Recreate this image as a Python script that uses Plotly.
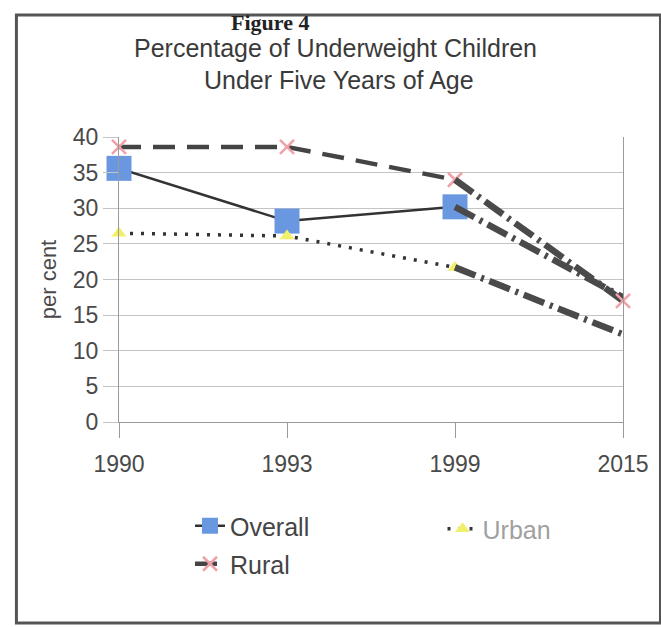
import plotly.graph_objects as go

years = ["1990", "1993", "1999", "2015"]
observed_years = years[:3]
projection_years = years[2:]

overall = [35.6, 28.2, 30.2]
urban = [26.5, 26.1, 21.7]
rural = [38.6, 38.6, 34.0]

overall_proj = [30.2, 17.5]
urban_proj = [21.7, 12.3]
rural_proj = [34.0, 17.0]

W, H = 661, 627
L, R, T, B = 119, 31, 137, 205
PW, PH = W - L - R, H - T - B


def px(x):
    return (x - L) / PW


def py(y):
    return (H - B - y) / PH


PROJ_COLOR = "#4a4a4a"
PROJ_DASH = "22px,6px,3px,6px"

fig = go.Figure()

fig.add_trace(go.Scatter(
    x=observed_years, y=overall, name="Overall", mode="lines+markers",
    line=dict(color="#333333", width=2.5),
    marker=dict(symbol="square", size=25, color="#6a98e0"),
    cliponaxis=False, legend="legend",
))
fig.add_trace(go.Scatter(
    x=observed_years, y=urban, name="Urban", mode="lines+markers",
    line=dict(color="#333333", width=3.5, dash="3px,8px"),
    marker=dict(symbol="triangle-up", size=13, color="#f2f06a"),
    cliponaxis=False, legend="legend2",
))
fig.add_trace(go.Scatter(
    x=observed_years, y=rural, name="Rural", mode="lines+markers",
    line=dict(color="#444444", width=4.5, dash="22px,12px"),
    marker=dict(symbol="x-thin", size=14, line=dict(color="#f0a0a8", width=2.5)),
    cliponaxis=False, legend="legend3",
))

for vals in (overall_proj, urban_proj, rural_proj):
    fig.add_trace(go.Scatter(
        x=projection_years, y=vals, mode="lines", showlegend=False,
        line=dict(color=PROJ_COLOR, width=6.5, dash=PROJ_DASH),
        cliponaxis=False, hoverinfo="skip",
    ))

fig.add_trace(go.Scatter(
    x=projection_years[1:], y=rural_proj[1:], mode="markers", showlegend=False,
    marker=dict(symbol="x-thin", size=14, line=dict(color="#f0a0a8", width=2.5)),
    cliponaxis=False, hoverinfo="skip",
))

SANS = "Liberation Sans, Arial"
tick_font = dict(family=SANS, size=23, color="#4a4a4a")

fig.update_layout(
    width=W, height=H,
    margin=dict(l=L, r=R, t=T, b=B, pad=0),
    paper_bgcolor="white", plot_bgcolor="white",
    font=tick_font,
    xaxis=dict(
        type="category", range=[0, 3],
        showgrid=False, zeroline=False,
        showline=True, linecolor="#9a9a9a", linewidth=1,
        ticks="outside", ticklen=15, tickcolor="#9a9a9a",
        tickfont=tick_font, ticklabelstandoff=6,
    ),
    yaxis=dict(
        range=[0, 40], dtick=5, tick0=0,
        showgrid=True, gridcolor="#c4c4c4", gridwidth=1,
        zeroline=False,
        showline=True, linecolor="#9a9a9a", linewidth=1, mirror=True,
        ticks="outside", ticklen=15, tickcolor="#c4c4c4",
        tickfont=tick_font, ticklabelstandoff=0,
        title=dict(text="per cent", font=dict(family=SANS, size=22, color="#4a4a4a"), standoff=10),
    ),
    legend=dict(
        x=px(191), y=py(503), xanchor="left", yanchor="top",
        font=dict(family=SANS, size=25, color="#444444"),
        bgcolor="rgba(0,0,0,0)",
    ),
    legend2=dict(
        x=px(447), y=py(506), xanchor="left", yanchor="top",
        font=dict(family=SANS, size=25, color="#a0a0a0"),
        bgcolor="rgba(0,0,0,0)",
    ),
    legend3=dict(
        x=px(191), y=py(541), xanchor="left", yanchor="top",
        font=dict(family=SANS, size=25, color="#444444"),
        bgcolor="rgba(0,0,0,0)",
    ),
    showlegend=True,
)

fig.add_annotation(
    text="<b>Figure 4</b>", xref="paper", yref="paper",
    x=px(272), y=py(22), xanchor="center", yanchor="middle", showarrow=False,
    font=dict(family="Liberation Serif, Times New Roman", size=22, color="#222222"),
)
fig.add_annotation(
    text="Percentage of Underweight Children", xref="paper", yref="paper",
    x=px(339), y=py(48), xanchor="center", yanchor="middle", showarrow=False,
    font=dict(family=SANS, size=25, color="#3a3a3a"),
)
fig.add_annotation(
    text="Under Five Years of Age", xref="paper", yref="paper",
    x=px(342), y=py(80), xanchor="center", yanchor="middle", showarrow=False,
    font=dict(family=SANS, size=25, color="#3a3a3a"),
)

fig.add_shape(
    type="rect", xref="paper", yref="paper",
    x0=px(15), x1=px(668), y0=py(623), y1=py(15),
    line=dict(color="#555555", width=3), fillcolor="rgba(0,0,0,0)", layer="above",
)

fig.write_html(
    "out.html",
    config={"displayModeBar": False},
    post_script="document.body.style.margin='0px';document.body.style.overflow='hidden';",
)
